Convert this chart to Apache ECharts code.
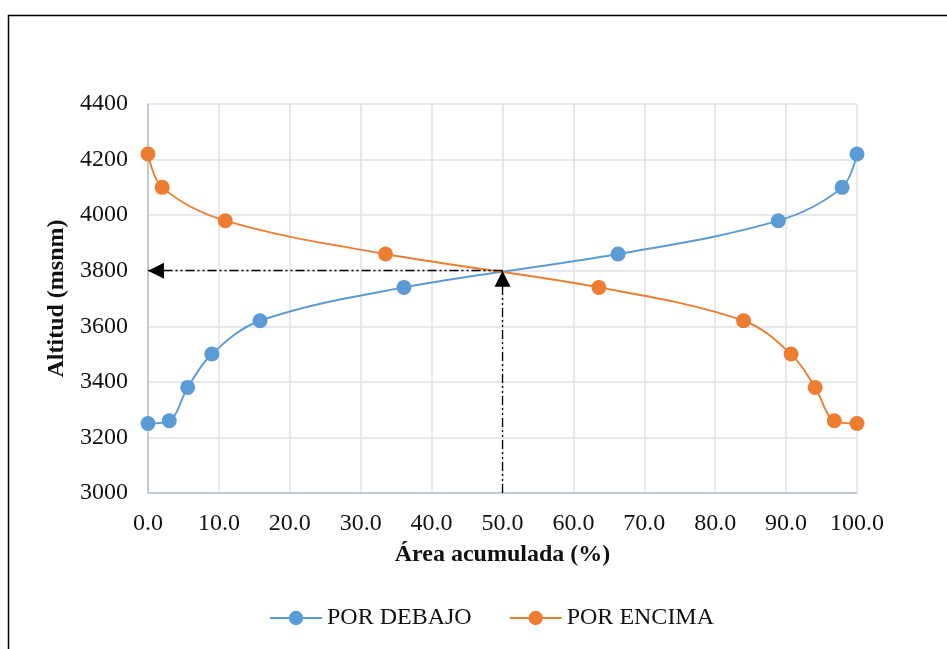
<!DOCTYPE html>
<html>
<head>
<meta charset="utf-8">
<script src="https://cdn.jsdelivr.net/npm/echarts@6/dist/echarts.min.js"></script>
<style>html,body{margin:0;padding:0;background:#fff;}#c{width:947px;height:649px;}</style>
</head>
<body>
<div id="c"></div>
<script>
// Data
const debajoX = [0, 3.0, 5.6, 9.0, 15.8, 36.1, 66.3, 88.9, 97.9, 100];
const debajoY = [3250, 3260, 3380, 3500, 3620, 3740, 3860, 3980, 4100, 4220];
const encimaX = [0, 2.0, 10.9, 33.5, 63.6, 84.0, 90.7, 94.1, 96.8, 100];
const encimaY = [4220, 4100, 3980, 3860, 3740, 3620, 3500, 3380, 3260, 3250];
const refX = 50;
const refY = 3800;
const xTicks = [0, 10, 20, 30, 40, 50, 60, 70, 80, 90, 100];
const yTicks = [3000, 3200, 3400, 3600, 3800, 4000, 4200, 4400];

const font = '"Liberation Serif", "Times New Roman", serif';
const chart = echarts.init(document.getElementById('c'), null, {renderer: 'canvas'});
const dashDot = [9, 3, 2, 3, 2, 3];

chart.setOption({
  backgroundColor: '#fff',
  animation: false,
  textStyle: {fontFamily: font},
  graphic: [{
    type: 'rect', left: 6, top: 13,
    shape: {width: 980, height: 680},
    style: {fill: 'none', stroke: '#000', lineWidth: 1.5}
  }],
  grid: {left: 148, right: 90, top: 104, bottom: 156},
  legend: {
    bottom: 14, left: 264,
    itemWidth: 52, itemHeight: 18, itemGap: 37,
    textStyle: {fontFamily: font, fontSize: 24, color: '#111'},
    data: ['POR DEBAJO', 'POR ENCIMA']
  },
  xAxis: {
    type: 'value', min: xTicks[0], max: xTicks[xTicks.length - 1], interval: 10,
    name: 'Área acumulada (%)', nameLocation: 'middle', nameGap: 50,
    nameTextStyle: {fontFamily: font, fontSize: 24, fontWeight: 'bold', color: '#111'},
    axisLine: {lineStyle: {color: '#b4bfd0', width: 1.5}},
    axisTick: {show: false},
    axisLabel: {fontFamily: font, fontSize: 24, color: '#111', margin: 19,
      formatter: v => v.toFixed(1)},
    splitLine: {show: true, lineStyle: {color: '#dfe2e8', width: 1.5}}
  },
  yAxis: {
    type: 'value', min: yTicks[0], max: yTicks[yTicks.length - 1], interval: 200,
    name: 'Altitud (msnm)', nameLocation: 'middle', nameGap: 76,
    nameTextStyle: {fontFamily: font, fontSize: 24, fontWeight: 'bold', color: '#111'},
    axisLine: {show: true, lineStyle: {color: '#b4bfd0', width: 1.5}},
    axisTick: {show: false},
    axisLabel: {fontFamily: font, fontSize: 24, color: '#111', margin: 20,
      formatter: v => String(v)},
    splitLine: {show: true, lineStyle: {color: '#dfe2e8', width: 1.5}}
  },
  series: [
    {
      name: 'POR DEBAJO', type: 'line', smooth: 0.35,
      data: debajoX.map((x, i) => [x, debajoY[i]]),
      symbol: 'circle', symbolSize: 15,
      itemStyle: {color: '#5b9bd5'},
      lineStyle: {color: '#5b9bd5', width: 1.9},
      z: 3
    },
    {
      name: 'POR ENCIMA', type: 'line', smooth: 0.35,
      data: encimaX.map((x, i) => [x, encimaY[i]]),
      symbol: 'circle', symbolSize: 15,
      itemStyle: {color: '#ed7d31'},
      lineStyle: {color: '#ed7d31', width: 1.9},
      z: 3
    },
    {
      name: 'ref', type: 'line', data: [], silent: true,
      markLine: {
        silent: true, animation: false,
        symbol: ['none', 'triangle'], symbolSize: [16, 16],
        label: {show: false},
        lineStyle: {color: '#000', type: dashDot, width: 1.3},
        data: [
          [{coord: [refX, refY]}, {coord: [0, refY], symbolOffset: [0, 8]}],
          [{coord: [refX, yTicks[0]]}, {coord: [refX, refY], symbolOffset: [0, 8]}]
        ]
      },
      z: 5
    }
  ]
});
</script>
</body>
</html>
